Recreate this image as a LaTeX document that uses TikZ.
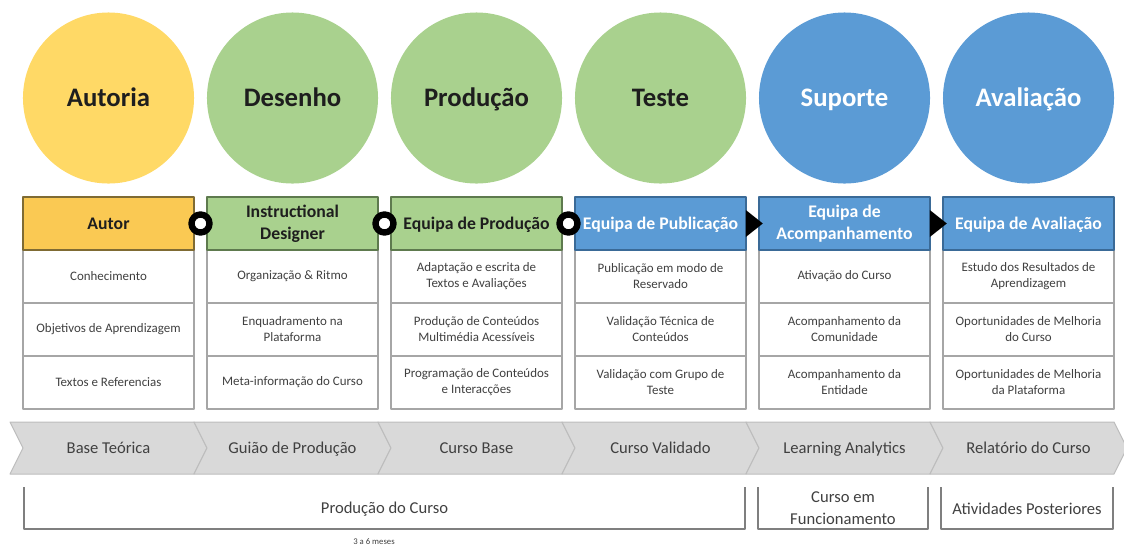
\documentclass[tikz,border=0pt]{standalone}
\usepackage{fontspec}
\setmainfont{Carlito}
\definecolor{ouro}{HTML}{FFD966}
\definecolor{ourohdr}{HTML}{FAC953}
\definecolor{ourolinha}{HTML}{7F6B33}
\definecolor{verde}{HTML}{A9D18E}
\definecolor{verdelinha}{HTML}{5E7A4E}
\definecolor{azul}{HTML}{5B9BD5}
\definecolor{azullinha}{HTML}{3A6A97}
\definecolor{txtescuro}{HTML}{1E1E1E}
\definecolor{linhacinza}{HTML}{A6A6A6}
\definecolor{txtcinza}{HTML}{404040}
\definecolor{setacinza}{HTML}{D9D9D9}
\definecolor{setalinha}{HTML}{BDBDBD}
\definecolor{chavecinza}{HTML}{7F7F7F}

\begin{document}
\begin{tikzpicture}[line join=round,x=0.025cm,y=-0.025cm,
	fase/.style={circle,minimum size=4.275cm,inner sep=0pt,text=txtescuro,text height=16.2pt,text depth=4pt,font=\bfseries\fontsize{19}{22}\selectfont},
	hdr/.style={rectangle,line width=1.1pt,minimum width=4.275cm,minimum height=1.325cm,inner sep=0pt,align=center,text=txtescuro,font=\bfseries\fontsize{12.6}{15.4}\selectfont},
	linha/.style={text height=11.1pt,text depth=3pt},
	tarefa/.style={rectangle,draw=linhacinza,line width=1pt,fill=white,minimum width=4.275cm,minimum height=1.325cm,inner sep=0pt,align=center,text=txtcinza,font=\fontsize{9.2}{11.4}\selectfont},
	seta/.style={fill=setacinza,draw=setalinha,line width=0.7pt},
	etapa/.style={text=txtcinza,align=center,font=\fontsize{11.8}{15.4}\selectfont},
	unica/.style={text height=10.6pt,text depth=3pt},
	chave/.style={draw=chavecinza,line width=1pt},
	elo/.style={circle,draw=black,line width=0.16cm,fill=white,minimum size=0.45cm,inner sep=0pt}]
		\useasboundingbox (0,0) rectangle (1124,548);
		\node[fase,fill=ouro] (f1) at (108.5,98) {Autoria};
		\node[fase,fill=verde] (f2) at (292.5,98) {Desenho};
		\node[fase,fill=verde] (f3) at (476.5,98) {Produção};
		\node[fase,fill=verde] (f4) at (660.5,98) {Teste};
		\node[fase,fill=azul,text=white] (f5) at (844.5,98) {Suporte};
		\node[fase,fill=azul,text=white] (f6) at (1028.5,98) {Avaliação};
		\node[tarefa] (a1) at (108.5,276.5) {Conhecimento};
		\node[tarefa] (a2) at (108.5,329.5) {Objetivos de Aprendizagem};
		\node[tarefa] (a3) at (108.5,382.5) {Textos e Referencias};
		\node[tarefa] (b1) at (292.5,276.5) {Organização \& Ritmo};
		\node[tarefa] (b2) at (292.5,329.5) {Enquadramento na\\Plataforma};
		\node[tarefa] (b3) at (292.5,382.5) {Meta-informação do Curso};
		\node[tarefa] (c1) at (476.5,276.5) {Adaptação e escrita de\\Textos e Avaliações};
		\node[tarefa] (c2) at (476.5,329.5) {Produção de Conteúdos\\Multimédia Acessíveis};
		\node[tarefa] (c3) at (476.5,382.5) {Programação de Conteúdos\\e Interacções};
		\node[tarefa] (d1) at (660.5,276.5) {Publicação em modo de\\Reservado};
		\node[tarefa] (d2) at (660.5,329.5) {Validação Técnica de\\Conteúdos};
		\node[tarefa] (d3) at (660.5,382.5) {Validação com Grupo de\\Teste};
		\node[tarefa] (e1) at (844.5,276.5) {Ativação do Curso};
		\node[tarefa] (e2) at (844.5,329.5) {Acompanhamento da\\Comunidade};
		\node[tarefa] (e3) at (844.5,382.5) {Acompanhamento da\\Entidade};
		\node[tarefa] (g1) at (1028.5,276.5) {Estudo dos Resultados de\\Aprendizagem};
		\node[tarefa] (g2) at (1028.5,329.5) {Oportunidades de Melhoria\\do Curso};
		\node[tarefa] (g3) at (1028.5,382.5) {Oportunidades de Melhoria\\da Plataforma};
		\node[hdr,linha,fill=ourohdr,draw=ourolinha] (h1) at (108.5,223.5) {Autor};
		\node[hdr,fill=verde,draw=verdelinha] (h2) at (292.5,223.5) {Instructional\\Designer};
		\node[hdr,linha,fill=verde,draw=verdelinha] (h3) at (476.5,223.5) {Equipa de Produção};
		\node[hdr,linha,fill=azul,draw=azullinha,text=white] (h4) at (660.5,223.5) {Equipa de Publicação};
		\node[hdr,fill=azul,draw=azullinha,text=white] (h5) at (844.5,223.5) {Equipa de\\Acompanhamento};
		\node[hdr,linha,fill=azul,draw=azullinha,text=white] (h6) at (1028.5,223.5) {Equipa de Avaliação};
		\path (h1) -- (h2) node[elo,midway] (l12) {};
		\path (h2) -- (h3) node[elo,midway] (l23) {};
		\path (h3) -- (h4) node[elo,midway] (l34) {};
		\fill[black] (h4.east) ++(-1,-13.5) -- ++(17,13.5) -- ++(-17,13.5) -- cycle;
		\fill[black] (h5.east) ++(-1,-13.5) -- ++(17,13.5) -- ++(-17,13.5) -- cycle;
		\filldraw[seta] (10,422) -- (194,422) -- (207,448) -- (194,474) -- (10,474) -- (23,448) -- cycle;
		\filldraw[seta] (194,422) -- (378,422) -- (391,448) -- (378,474) -- (194,474) -- (207,448) -- cycle;
		\filldraw[seta] (378,422) -- (562,422) -- (575,448) -- (562,474) -- (378,474) -- (391,448) -- cycle;
		\filldraw[seta] (562,422) -- (746,422) -- (759,448) -- (746,474) -- (562,474) -- (575,448) -- cycle;
		\filldraw[seta] (746,422) -- (930,422) -- (943,448) -- (930,474) -- (746,474) -- (759,448) -- cycle;
		\filldraw[seta] (930,422) -- (1114,422) -- (1127,448) -- (1114,474) -- (930,474) -- (943,448) -- cycle;
		\node[etapa,unica] (s1) at (108.5,448) {Base Teórica};
		\node[etapa,unica] (s2) at (292.5,448) {Guião de Produção};
		\node[etapa,unica] (s3) at (476.5,448) {Curso Base};
		\node[etapa,unica] (s4) at (660.5,448) {Curso Validado};
		\node[etapa,unica] (s5) at (844.5,448) {Learning Analytics};
		\node[etapa,unica] (s6) at (1028.5,448) {Relatório do Curso};
		\draw[chave] (24,487) |- (745,529) -- (745,487);
		\draw[chave] (758,487) |- (928,529) -- (928,487);
		\draw[chave] (941,487) |- (1113,529) -- (1113,487);
		\node[etapa,unica] (p1) at (384.5,508) {Produção do Curso};
		\node[etapa] (p2) at (843,508) {Curso em\\Funcionamento};
		\node[etapa,unica] (p3) at (1027,509) {Atividades Posteriores};
		\node[text=txtcinza,font=\fontsize{6.2}{7}\selectfont] (m1) at (374,542) {3 a 6 meses};
	\end{tikzpicture}
\end{document}
